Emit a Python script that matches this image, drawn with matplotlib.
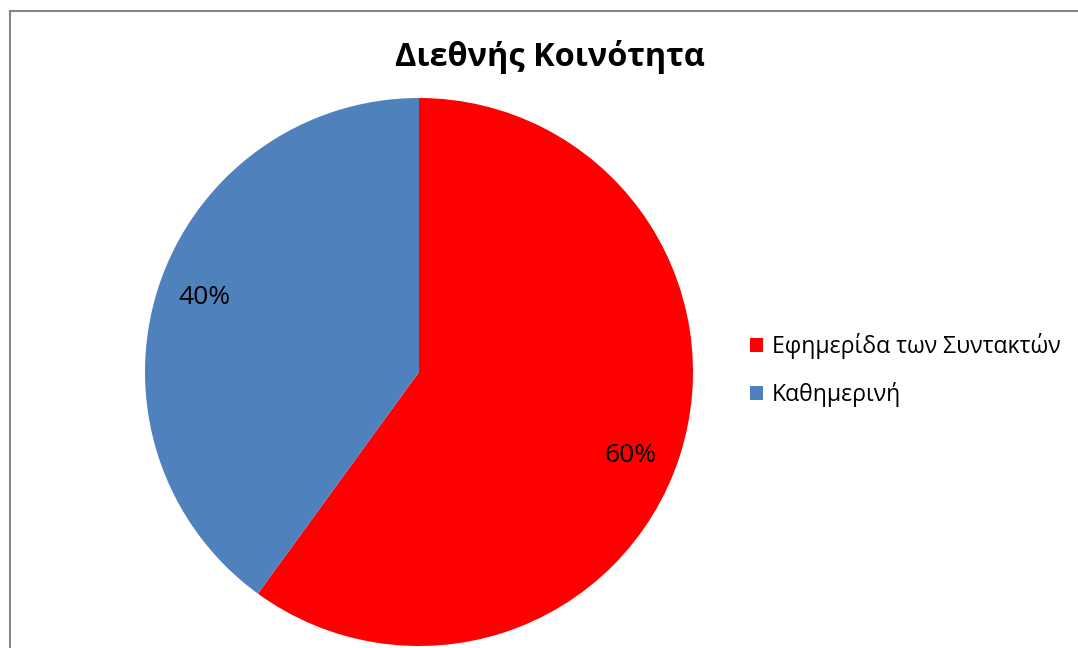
import numpy as np
import matplotlib.pyplot as plt
from matplotlib.lines import Line2D

# Data
labels = ['Εφημερίδα των Συντακτών', 'Καθημερινή']
shares = [60, 40]
colors = ['#FF0000', '#4F81BD']
title = 'Διεθνής Κοινότητα'

W, H = 1078, 648
fig = plt.figure(figsize=(W / 100, H / 100), dpi=100)
plt.rcParams['font.family'] = ['Open Sans', 'Noto Sans', 'DejaVu Sans']

# pie axes placed in pixel terms: centre (419, 372), radius 274
cx, cy, r = 419, 372, 274
ax = fig.add_axes([(cx - r) / W, (H - cy - r) / H, 2 * r / W, 2 * r / H])
wedges, texts, autotexts = ax.pie(shares, colors=colors, startangle=90, counterclock=False,
                                  autopct='%1.0f%%', pctdistance=0.83,
                                  wedgeprops={'linewidth': 0},
                                  textprops={'fontsize': 19, 'color': 'black'})
# Excel places the labels a little clockwise of the wedge middle
for w, t, off in zip(wedges, autotexts, [-3.6, -1.2]):
    ang = np.deg2rad((w.theta1 + w.theta2) / 2 + off)
    t.set_position((0.83 * np.cos(ang), 0.83 * np.sin(ang)))
ax.set_xlim(-1, 1)
ax.set_ylim(-1, 1)
ax.set_aspect('equal')
ax.axis('off')

fig.text(550 / W, 1 - 57 / H, title, ha='center', va='center',
         fontsize=23.4, fontweight='bold')

leg = fig.legend(wedges, labels, loc='upper left', bbox_to_anchor=(750 / W, 1 - 333 / H),
                 frameon=False, fontsize=16.6, handlelength=0.55, handleheight=0.55,
                 handletextpad=0.4, labelspacing=1.0, borderaxespad=0, borderpad=0)

# chart area border (left and top visible)
fig.add_artist(Line2D([10 / W, 10 / W], [0, 1 - 11 / H], transform=fig.transFigure,
                      color='#868686', linewidth=1.5))
fig.add_artist(Line2D([10 / W, 1], [1 - 11 / H, 1 - 11 / H], transform=fig.transFigure,
                      color='#868686', linewidth=1.5))

fig.savefig('out.png', dpi=100, facecolor='white')
